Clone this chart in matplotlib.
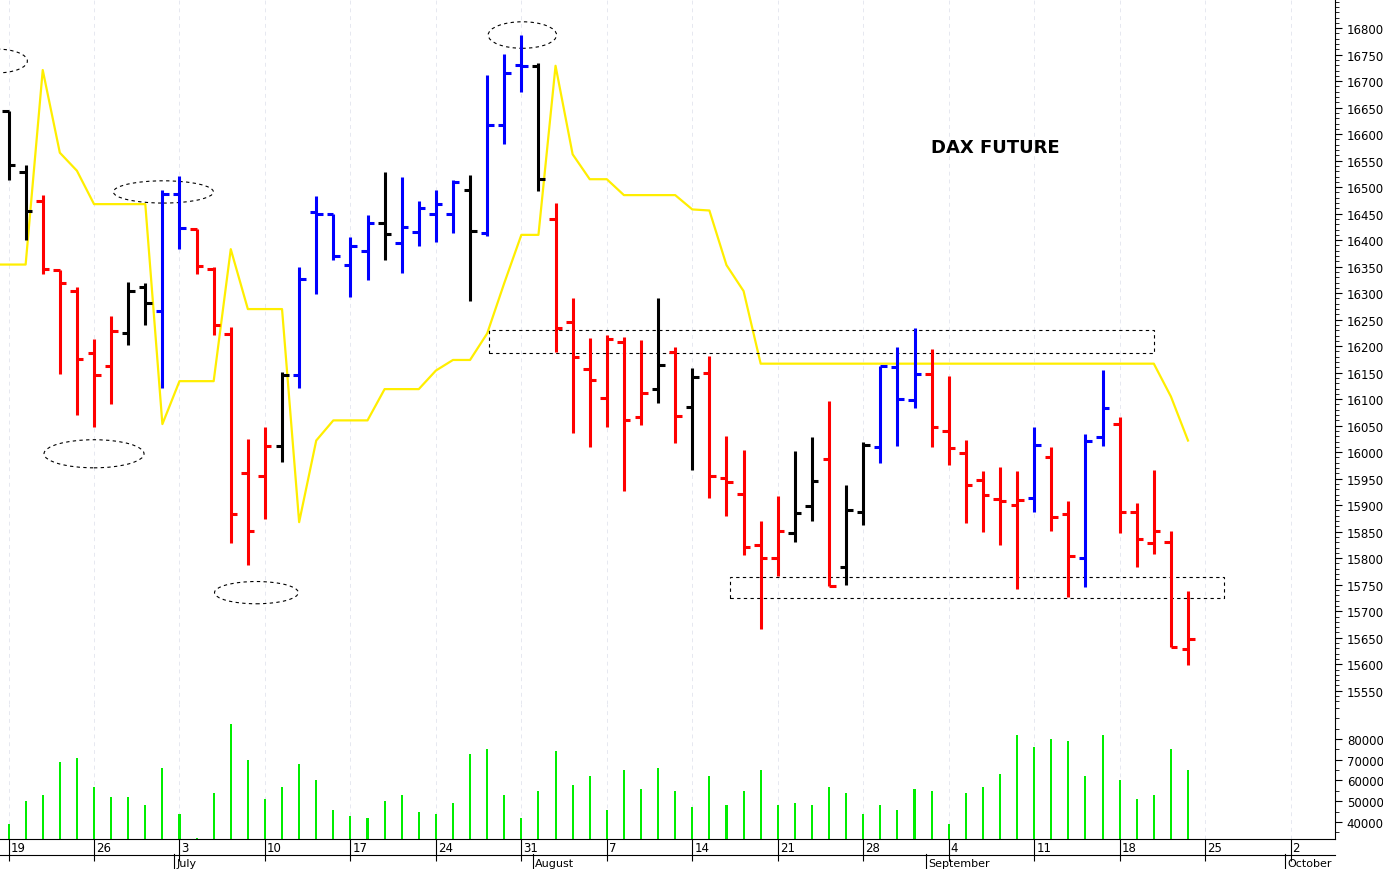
import matplotlib
matplotlib.use('Agg')
import matplotlib.pyplot as plt
from matplotlib.patches import Ellipse, Rectangle
import numpy as np

# trading days from Mon 19 June 2023 to Fri 22 Sept 2023
opens = [16643, 16529, 16474, 16344, 16304, 16187, 16163, 16225, 16311, 16266,
         16487, 16421, 16346, 16223, 15961, 15955, 16012, 16145, 16453, 16450,
         16354, 16379, 16432, 16394, 16416, 16450, 16450, 16494, 16413, 16618,
         16731, 16728, 16440, 16246, 16157, 16102, 16207, 16066, 16120, 16189,
         16086, 16149, 15952, 15921, 15824, 15800, 15848, 15898, 15988, 15783,
         15888, 16009, 16160, 16098, 16147, 16040, 15998, 15947, 15912, 15900,
         15913, 15991, 15883, 15800, 16028, 16053, 15888, 15829, 15831, 15629]
highs = [16643, 16542, 16486, 16344, 16312, 16214, 16257, 16321, 16320, 16495,
         16521, 16421, 16349, 16237, 16024, 16048, 16152, 16349, 16484, 16450,
         16406, 16447, 16529, 16519, 16474, 16494, 16513, 16523, 16711, 16751,
         16787, 16735, 16471, 16290, 16215, 16221, 16218, 16212, 16290, 16198,
         16159, 16182, 16031, 16005, 15871, 15918, 16003, 16029, 16097, 15938,
         16020, 16163, 16199, 16234, 16194, 16144, 16023, 15965, 15973, 15964,
         16047, 16010, 15908, 16035, 16155, 16066, 15905, 15967, 15851, 15739]
lows = [16514, 16400, 16336, 16147, 16070, 16048, 16091, 16203, 16240, 16122,
        16383, 16336, 16221, 15829, 15788, 15874, 15982, 16122, 16299, 16362,
        16292, 16324, 16362, 16339, 16389, 16396, 16414, 16285, 16408, 16581,
        16680, 16492, 16189, 16036, 16010, 16048, 15927, 16051, 16093, 16017,
        15967, 15914, 15880, 15806, 15667, 15766, 15831, 15870, 15747, 15750,
        15863, 15980, 16012, 16084, 16009, 15976, 15866, 15850, 15825, 15742,
        15888, 15852, 15726, 15746, 16012, 15847, 15783, 15808, 15632, 15599]
closes = [16541, 16455, 16346, 16319, 16176, 16146, 16229, 16304, 16282, 16487,
          16423, 16352, 16240, 15884, 15851, 16012, 16145, 16327, 16450, 16371,
          16389, 16433, 16412, 16425, 16460, 16468, 16509, 16418, 16618, 16715,
          16728, 16516, 16234, 16179, 16137, 16213, 16061, 16111, 16164, 16068,
          16141, 15956, 15943, 15821, 15800, 15851, 15885, 15945, 15747, 15890,
          16014, 16163, 16101, 16147, 16047, 16007, 15938, 15919, 15908, 15910,
          16013, 15877, 15804, 16022, 16083, 15888, 15837, 15851, 15633, 15648]
bar_colors = list('kkrrrrrkkbbrrrrrkbbbbbkbbbbkbbbk'
                  'rrrrrrkrkrrrrrkkrkkbbbrrrrrrbrrbbrrrrr')
stop_line = [16354, 16354, 16721, 16565, 16531, 16468, 16468, 16468, 16468, 16053,
             16134, 16134, 16134, 16383, 16270, 16270, 16270, 15868, 16022, 16060,
             16060, 16060, 16119, 16119, 16119, 16154, 16174, 16174, 16224, 16319,
             16410, 16410, 16729, 16562, 16515, 16515, 16485, 16485, 16485, 16485,
             16458, 16456, 16353, 16304, 16167, 16167, 16167, 16167, 16167, 16167,
             16167, 16167, 16167, 16167, 16167, 16167, 16167, 16167, 16167, 16167,
             16167, 16167, 16167, 16167, 16167, 16167, 16167, 16167, 16105, 16022]
volumes = [39000, 50000, 53000, 69000, 71000, 57000, 52000, 52000, 48000, 66000,
           44000, 32500, 54000, 87000, 70000, 51000, 57000, 68000, 60000, 46000,
           43000, 42000, 50000, 53000, 45000, 44000, 49000, 73000, 75000, 53000,
           42000, 55000, 74000, 58000, 62000, 46000, 65000, 56000, 66000, 55000,
           47000, 62000, 48000, 55000, 65000, 48000, 49000, 48000, 57000, 54000,
           44000, 48000, 46000, 56000, 55000, 39000, 54000, 57000, 63000, 82000,
           76000, 80000, 79000, 62000, 82000, 60000, 51000, 53000, 75000, 65000]
week_ticks = [0, 5, 10, 15, 20, 25, 30, 35, 40, 45, 50, 55, 60, 65, 70, 75]
week_labels = ['19', '26', '3', '10', '17', '24', '31', '7', '14', '21', '28',
               '4', '11', '18', '25', '2']
month_pos = [10, 31, 54, 75]
month_labels = ['July', 'August', 'September', 'October']

cmap = {'k': 'black', 'r': '#ff0000', 'b': '#0000ff'}
x = np.arange(len(opens))
xmin, xmax = -0.5, 77.6

fig = plt.figure(figsize=(13.83, 8.7), dpi=100)
ax = fig.add_axes([0, 0.1897, 0.9653, 0.8103])
axv = fig.add_axes([0, 0.0345, 0.9653, 0.1552], sharex=ax)

for a in (ax, axv):
    for t in week_ticks:
        a.axvline(t, color='#e6e8f0', lw=0.7, ls=(0, (4, 4)), zorder=0)
    for s in ('left', 'top'):
        a.spines[s].set_visible(False)
    a.yaxis.tick_right()
    a.tick_params(axis='y', labelsize=8.5, length=5, direction='out')
    a.tick_params(axis='y', which='minor', length=3)
ax.spines['bottom'].set_visible(False)

# OHLC bars
tk = 0.38
for i in x:
    c = cmap[bar_colors[i]]
    ax.plot([i, i], [lows[i], highs[i]], color=c, lw=2.2, solid_capstyle='butt')
    ax.plot([i - tk, i], [opens[i], opens[i]], color=c, lw=2.2, solid_capstyle='butt')
    ax.plot([i, i + tk], [closes[i], closes[i]], color=c, lw=2.2, solid_capstyle='butt')

ax.plot(np.r_[xmin, x], np.r_[stop_line[0], stop_line], color='#ffee00', lw=1.6, zorder=1)

# support / resistance zones and swing points
ax.add_patch(Rectangle((28.1, 16187), 38.9, 43, fill=False, ls=(0, (3, 3)), lw=0.8, ec='black'))
ax.add_patch(Rectangle((42.2, 15725), 28.9, 40, fill=False, ls=(0, (3, 3)), lw=0.8, ec='black'))
for cx, cy, w, h in [(-0.7, 16738, 3.6, 45), (5.0, 15997, 5.85, 53), (9.06, 16491, 5.85, 42),
                     (30.06, 16787, 4.0, 50), (14.5, 15735, 4.9, 42)]:
    ax.add_patch(Ellipse((cx, cy), w, h, fill=False, ls=(0, (3, 3)), lw=0.8, ec='black'))

ax.text(57.7, 16575, 'DAX FUTURE', fontsize=13, fontweight='bold', ha='center', va='center')

ax.set_xlim(xmin, xmax)
ax.set_ylim(15525, 16855)
ax.set_yticks(np.arange(15550, 16801, 50))
ax.set_yticks(np.arange(15530, 16851, 10), minor=True)

axv.bar(x, volumes, width=0.12, color='#00ee00', bottom=0)
axv.set_ylim(31800, 96900)
axv.set_yticks(np.arange(40000, 80001, 10000))
axv.set_yticks(np.arange(35000, 95001, 5000), minor=True)
axv.set_xticks(week_ticks)
axv.tick_params(axis='x', labelbottom=False, length=16, direction='out', width=0.8)
plt.setp(ax.get_xticklabels(), visible=False)
ax.tick_params(axis='x', length=0)

# date labels below the volume panel
trans = axv.get_xaxis_transform()
for t, lab in zip(week_ticks, week_labels):
    axv.text(t + 0.12, -0.06, lab, transform=trans, fontsize=8.5, ha='left', va='center')
for p, lab in zip(month_pos, month_labels):
    axv.plot([p - 0.3, p - 0.3], [-0.11, -0.23], transform=trans, color='black', lw=0.8, clip_on=False)
    axv.text(p - 0.2, -0.178, lab, transform=trans, fontsize=8, ha='left', va='center')
axv.plot([xmin, xmax], [-0.115, -0.115], transform=trans, color='black', lw=0.8, clip_on=False)

fig.savefig('out.png', dpi=100)
